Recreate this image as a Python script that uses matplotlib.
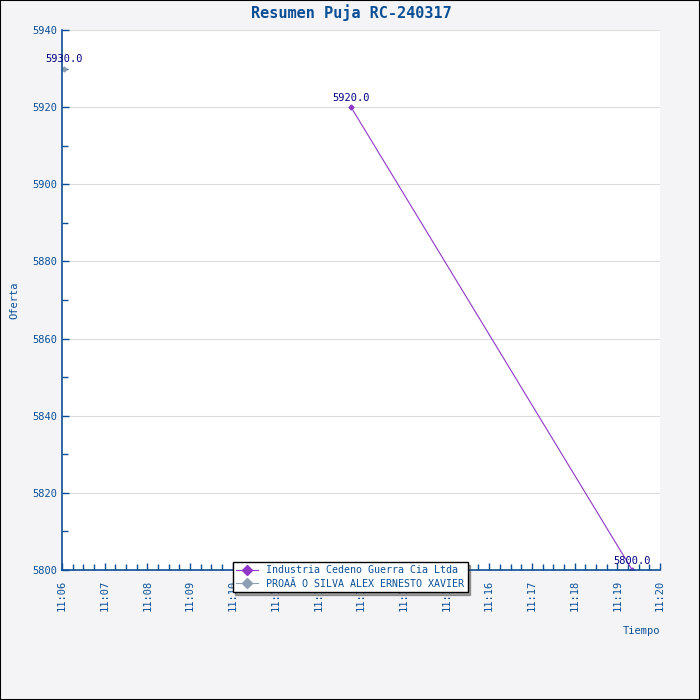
import matplotlib
matplotlib.use("Agg")
from matplotlib import pyplot as plt
import matplotlib.dates as mdates
from datetime import datetime

# data
s1_name = "Industria Cedeno Guerra Cia Ltda"
s1_times = ["11:12:46", "11:19:21"]
s1_vals = [5920.0, 5800.0]

s2_name = "PROAÃ O SILVA ALEX ERNESTO XAVIER"
s2_times = ["11:06:03"]
s2_vals = [5930.0]

day = "2024-03-17 "
t1 = [datetime.strptime(day + t, "%Y-%m-%d %H:%M:%S") for t in s1_times]
t2 = [datetime.strptime(day + t, "%Y-%m-%d %H:%M:%S") for t in s2_times]

blue = "#0a4f96"
navy = "#000080"
purple = "#9137c8"
grey = "#8e9fb3"
mono = "DejaVu Sans Mono"

fig = plt.figure(figsize=(7, 7), dpi=100, facecolor="#f4f4f6")
fig.patches.append(plt.Rectangle((0, 0), 1, 1, transform=fig.transFigure,
                                 fill=False, edgecolor="black", lw=1.5))
ax = fig.add_axes([62/700, 130/700, 598/700, 540/700])
ax.set_facecolor("white")

l1, = ax.plot(t1, s1_vals, color=purple, lw=0.8, marker="D", ms=2.5,
              label=s1_name)
l2, = ax.plot(t2, s2_vals, color=grey, lw=0.8, marker="D", ms=2.5,
              label=s2_name)

for t, v in zip(t1 + t2, s1_vals + s2_vals):
    ax.annotate("%.1f" % v, (t, v), xytext=(0, 3), textcoords="offset points",
                ha="center", va="bottom", color=navy, fontsize=7.5,
                family=mono)

ax.set_xlim(datetime.strptime(day + "11:06:00", "%Y-%m-%d %H:%M:%S"),
            datetime.strptime(day + "11:20:00", "%Y-%m-%d %H:%M:%S"))
ax.set_ylim(5800, 5940)
ax.set_yticks(range(5800, 5941, 20))
ax.set_yticks(range(5800, 5941, 10), minor=True)
ax.xaxis.set_major_locator(mdates.MinuteLocator())
ax.xaxis.set_minor_locator(mdates.SecondLocator(bysecond=[0, 15, 30, 45]))
ax.xaxis.set_major_formatter(mdates.DateFormatter("%H:%M"))

ax.yaxis.grid(True, color="#dcdcdc", lw=0.8)
ax.set_axisbelow(True)

for side in ["top", "right"]:
    ax.spines[side].set_visible(False)
for side in ["left", "bottom"]:
    ax.spines[side].set_color(blue)
    ax.spines[side].set_linewidth(1.2)

ax.tick_params(axis="both", which="both", direction="in", colors=blue,
               labelsize=7.5, labelcolor=blue)
ax.tick_params(axis="both", which="major", length=5, width=1)
ax.tick_params(axis="both", which="minor", length=4, width=1)
ax.tick_params(axis="x", which="major", pad=7)
plt.setp(ax.get_xticklabels(), rotation=90, family=mono)
plt.setp(ax.get_yticklabels(), family=mono)

fig.text(351/700, 1 - 13/700, "Resumen Puja RC-240317", color=blue,
         fontsize=11, fontweight="bold", family=mono, ha="center",
         va="center")
fig.text(14/700, 1 - 300/700, "Oferta", rotation=90, color=blue, fontsize=7.5,
         family=mono, ha="center", va="center")
fig.text(660/700, 1 - 631/700, "Tiempo", color=blue, fontsize=7.5,
         family=mono, ha="right", va="center")

leg = fig.legend(handles=[l1, l2], loc="center",
                 bbox_to_anchor=(350/700, 1 - 577/700), ncol=1,
                 prop={"family": mono, "size": 7.2}, fancybox=False,
                 shadow=True, framealpha=1, edgecolor="black",
                 handlelength=2.2, borderpad=0.35, labelspacing=0.35,
                 handletextpad=0.8, markerscale=2)
for txt in leg.get_texts():
    txt.set_color(blue)
leg.get_frame().set_linewidth(1)

plt.savefig("out.png", dpi=100, facecolor=fig.get_facecolor())
